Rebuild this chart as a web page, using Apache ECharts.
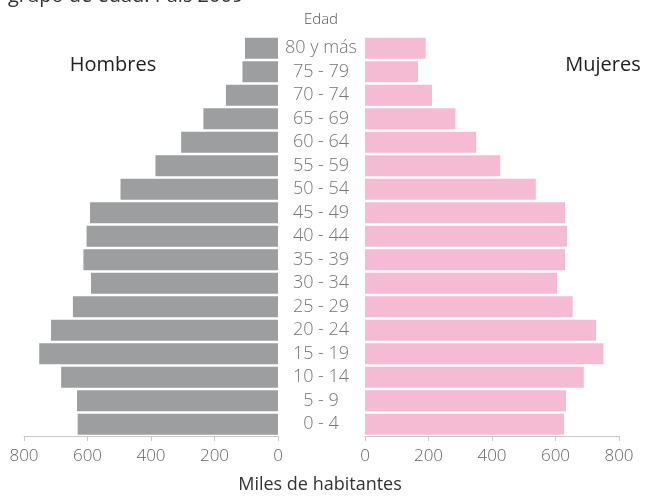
<!DOCTYPE html>
<html><head><meta charset="utf-8">
<script src="https://cdn.jsdelivr.net/npm/echarts@6/dist/echarts.min.js"></script>
<style>html,body{margin:0;padding:0;background:#fff}#c{width:646px;height:497px}</style>
</head><body><div id="c"></div>
<script>
const categories = ['0 - 4','5 - 9','10 - 14','15 - 19','20 - 24','25 - 29','30 - 34','35 - 39','40 - 44','45 - 49','50 - 54','55 - 59','60 - 64','65 - 69','70 - 74','75 - 79','80 y más'];
const hombres = [631,633,683,752,715,646,589,613,603,592,496,386,305,235,164,112,104];
const mujeres = [627,633,689,751,728,654,605,630,636,630,538,426,350,285,211,167,191];
const xTicks = [0,200,400,600,800];

const font = '"Open Sans", "Noto Sans", sans-serif';
const chart = echarts.init(document.getElementById('c'));
const xAxisCommon = {
  type:'value', min:xTicks[0], max:xTicks[xTicks.length-1], interval:xTicks[1]-xTicks[0],
  splitLine:{show:false},
  axisLine:{show:true, lineStyle:{color:'#c8c8c8', width:1}},
  axisTick:{show:true, length:5, lineStyle:{color:'#c8c8c8'}},
  axisLabel:{color:'#666', fontSize:17, fontWeight:300, fontFamily:font, margin:12}
};
chart.setOption({
  animation:false,
  textStyle:{fontFamily:font},
  graphic:[
    {type:'text', left:8, top:-14, style:{text:'grupo de edad. País 2009', font:'20px '+font, fill:'#333'}},
    {type:'text', x:321, y:20, style:{text:'Edad', font:'300 15px '+font, fill:'#555', align:'center', verticalAlign:'middle'}},
    {type:'text', x:113, y:65, style:{text:'Hombres', font:'20px '+font, fill:'#222', align:'center', verticalAlign:'middle'}},
    {type:'text', x:603, y:65, style:{text:'Mujeres', font:'20px '+font, fill:'#222', align:'center', verticalAlign:'middle'}},
    {type:'text', x:320, y:485, style:{text:'Miles de habitantes', font:'18px '+font, fill:'#333', align:'center', verticalAlign:'middle'}}
  ],
  grid:[
    {left:24, right:368, top:36.5, bottom:61},
    {left:365, right:27, top:36.5, bottom:61}
  ],
  xAxis:[
    Object.assign({gridIndex:0, inverse:true}, xAxisCommon),
    Object.assign({gridIndex:1}, xAxisCommon)
  ],
  yAxis:[
    {type:'category', gridIndex:0, position:'right', data:categories,
     axisLine:{show:false}, axisTick:{show:false},
     axisLabel:{color:'#777', fontSize:18, fontWeight:300, fontFamily:font, align:'center', margin:43, padding:[3,0,0,0]}},
    {type:'category', gridIndex:1, data:categories,
     axisLine:{show:false}, axisTick:{show:false}, axisLabel:{show:false}}
  ],
  series:[
    {type:'bar', name:'Hombres', xAxisIndex:0, yAxisIndex:0, data:hombres, barCategoryGap:'10%',
     itemStyle:{color:'#9d9ea0'}},
    {type:'bar', name:'Mujeres', xAxisIndex:1, yAxisIndex:1, data:mujeres, barCategoryGap:'10%',
     itemStyle:{color:'#f5bbd3'}}
  ]
});
</script></body></html>
